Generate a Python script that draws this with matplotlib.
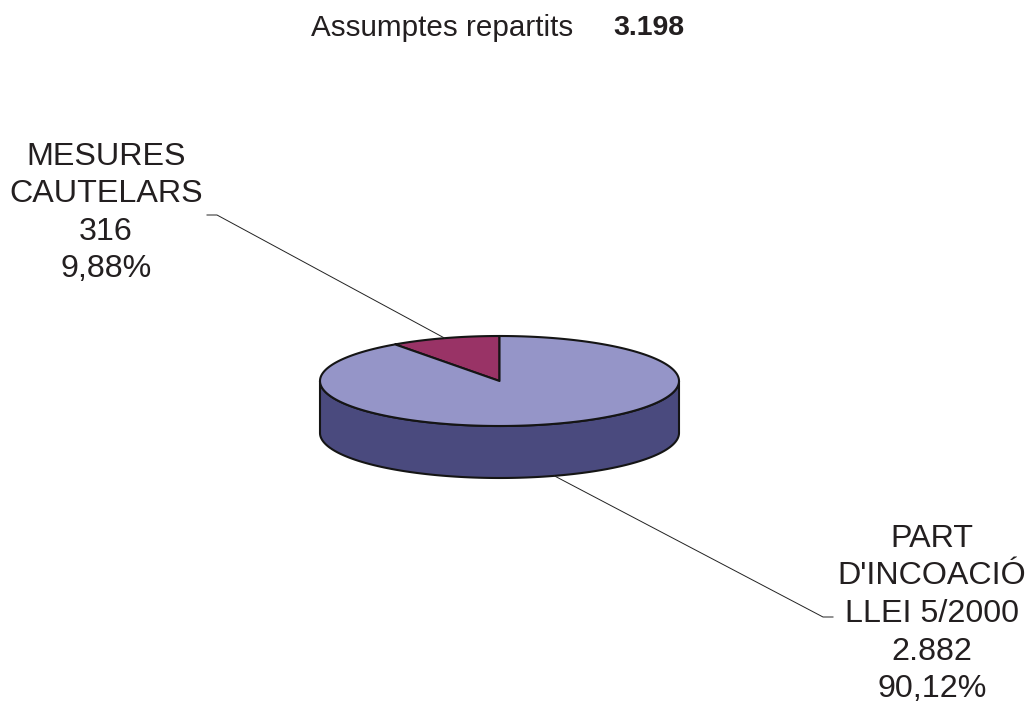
import numpy as np
import matplotlib
matplotlib.use('Agg')
import matplotlib.pyplot as plt
from matplotlib.patches import Polygon

plt.rcParams['font.family'] = ['Liberation Sans', 'DejaVu Sans']

# dades
labels = ['MESURES\nCAUTELARS', "PART\nD'INCOACIÓ\nLLEI 5/2000"]
values = [316, 2882]
top_colors = ['#993366', '#9595C8']
side_colors = ['#5C1F3D', '#4A4A7E']

total = sum(values)

def fmt_num(n):
    return f'{n:,}'.replace(',', '.')

def fmt_pct(p):
    return f'{p:.2f}%'.replace('.', ',')

# geometria del pastis (en pixels)
cx, cy = 499.5, 381
rx, ry = 179.5, 45
depth = 52

def pt(theta, dy=0):
    t = np.radians(theta)
    return cx + rx * np.cos(t), cy - ry * np.sin(t) + dy

fig = plt.figure(figsize=(10.29, 7.13), dpi=100)
ax = fig.add_axes([0, 0, 1, 1])
ax.set_xlim(0, 1029)
ax.set_ylim(713, 0)
ax.axis('off')

# angles de cada porcio, comencant a dalt i girant a l'esquerra
fracs = np.array(values) / total
starts = 90 + 360 * np.concatenate([[0], np.cumsum(fracs)[:-1]])
ends = starts + 360 * fracs

# costat (nomes la meitat del davant)
for s, e, col in zip(starts, ends, side_colors):
    for off in (0, 360, -360):
        a = max(s + off, 180)
        b = min(e + off, 360)
        if b > a:
            th = np.linspace(a, b, 200)
            xs, ys = pt(th)
            xb, yb = pt(th[::-1], depth)
            poly = np.column_stack([np.concatenate([xs, xb]), np.concatenate([ys, yb])])
            ax.add_patch(Polygon(poly, closed=True, facecolor=col,
                                 edgecolor='#151515', linewidth=1.5, joinstyle='round'))

# cara de dalt
for s, e, col in zip(starts, ends, top_colors):
    th = np.linspace(s, e, 400)
    xs, ys = pt(th)
    poly = np.column_stack([np.concatenate([[cx], xs]), np.concatenate([[cy], ys])])
    ax.add_patch(Polygon(poly, closed=True, facecolor=col,
                         edgecolor='#151515', linewidth=1.5, joinstyle='round'))

# etiquetes amb linies guia
label_pos = [(106, 213), (932, 614)]
line_end = [(207, 215), (833, 617)]
for i, (lab, v) in enumerate(zip(labels, values)):
    mid = (starts[i] + ends[i]) / 2
    if np.sin(np.radians(mid)) < 0:
        x0, y0 = pt(mid, depth)
    else:
        x0, y0 = pt(mid)
    xe, ye = line_end[i]
    xk = xe + 10 if xe < x0 else xe - 10
    ax.plot([x0, xk, xe], [y0, ye, ye], color='#222222', linewidth=0.7)
    txt = f'{lab}\n{fmt_num(v)}\n{fmt_pct(100 * v / total)}'
    ax.text(label_pos[i][0], label_pos[i][1], txt, ha='center', va='center',
            fontsize=23.2, linespacing=1.33, color='#231f20')

# titol
ax.text(573, 28, 'Assumptes repartits', ha='right', va='center',
        fontsize=21.3, color='#231f20')
ax.text(613, 28, fmt_num(total), ha='left', va='center',
        fontsize=20.5, fontweight='bold', color='#231f20')

plt.savefig('out.png', dpi=100)
